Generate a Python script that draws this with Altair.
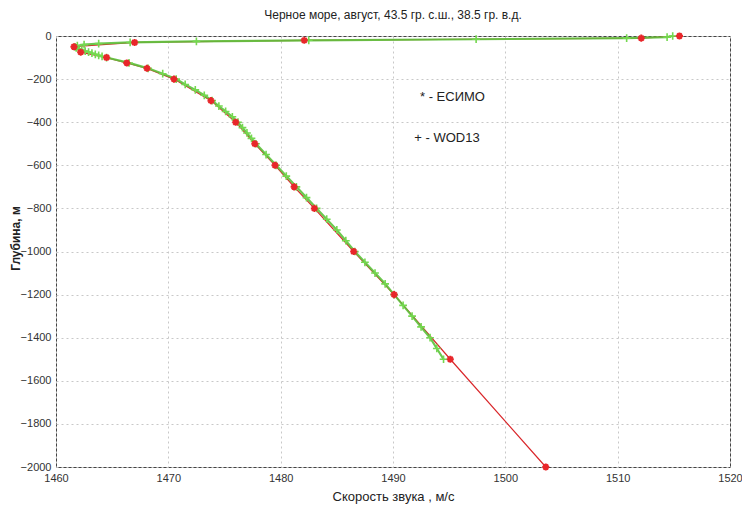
import altair as alt
import pandas as pd

# ESIMO (red, asterisk markers)
esimo_speed = [1515.5, 1512.1, 1482.1, 1467.0, 1461.6, 1462.2, 1464.5, 1466.3, 1468.1, 1470.5,
               1473.8, 1476.0, 1477.7, 1479.5, 1481.2, 1483.0, 1486.5, 1490.1, 1495.1, 1503.6]
esimo_depth = [0, -10, -20, -30, -50, -75, -100, -125, -150, -200,
               -300, -400, -500, -600, -700, -800, -1000, -1200, -1500, -2000]

# WOD13 (green, plus markers)
wod_speed = [1514.9, 1514.4, 1510.8, 1497.4, 1482.5, 1472.5, 1466.6, 1463.8, 1462.5, 1461.9,
             1461.7, 1461.8, 1462.0, 1462.3, 1462.6, 1462.9, 1463.2, 1463.5, 1463.8, 1464.1,
             1464.5, 1466.5, 1468.2, 1469.5, 1470.7, 1471.5, 1472.4, 1473.2, 1473.9, 1474.5,
             1475.1, 1475.7, 1476.2, 1476.6, 1477.0, 1477.4, 1477.8, 1478.7, 1479.6, 1480.5,
             1481.4, 1482.3, 1483.2, 1484.1, 1485.0, 1485.8, 1486.6, 1487.5, 1488.4, 1489.3,
             1490.1, 1490.9, 1491.7, 1492.5, 1493.3, 1493.9, 1494.5]
wod_depth = [0, -5, -10, -15, -20, -25, -30, -35, -40, -45,
             -50, -55, -60, -65, -70, -75, -80, -85, -90, -95,
             -100, -125, -150, -175, -200, -225, -250, -275, -300, -325,
             -350, -375, -400, -425, -450, -475, -500, -550, -600, -650,
             -700, -750, -800, -850, -900, -950, -1000, -1050, -1100, -1150,
             -1200, -1250, -1300, -1350, -1400, -1450, -1500]

x_ticks = [1460, 1470, 1480, 1490, 1500, 1510, 1520]
y_ticks = [0, -200, -400, -600, -800, -1000, -1200, -1400, -1600, -1800, -2000]

legend_x = [1492.4, 1491.9]
legend_y = [-283, -473]
legend_text = ["*  -  ЕСИМО", "+  -  WOD13"]

FONT = "Liberation Sans"

esimo = pd.DataFrame({"speed": esimo_speed, "depth": esimo_depth,
                      "idx": list(range(len(esimo_speed)))})
wod = pd.DataFrame({"speed": wod_speed, "depth": wod_depth,
                    "idx": list(range(len(wod_speed)))})
legend = pd.DataFrame({"x": legend_x, "y": legend_y, "t": legend_text})

xscale = alt.Scale(domain=[1460, 1520], nice=False, zero=False)
yscale = alt.Scale(domain=[-2000, 0], nice=False, zero=False)

xenc = alt.X("speed:Q", scale=xscale,
             axis=alt.Axis(values=x_ticks, title="Скорость звука , м/с", format="d",
                           labelPadding=5, titlePadding=7, titleFontWeight="normal",
                           titleFontSize=13, labelFontSize=11, labelFlush=False))
yenc = alt.Y("depth:Q", scale=yscale,
             axis=alt.Axis(values=y_ticks, title="Глубина, м", format="d",
                           labelPadding=5, titleFontWeight="bold", titleFontSize=12,
                           labelFontSize=11, titleX=-34, titleY=202, labelFlush=False))

asterisk = "M-1,0L1,0M0,-1L0,1M-0.7,-0.7L0.7,0.7M-0.7,0.7L0.7,-0.7"
plus = "M-1,0L1,0M0,-1L0,1"

red_line = alt.Chart(esimo).mark_line(color="#d9262a", strokeWidth=1.2).encode(
    x=xenc, y=yenc, order="idx:Q")
red_pts = alt.Chart(esimo).mark_point(shape=asterisk, filled=False, color="#e8262a",
                                      strokeWidth=2, size=50, opacity=1).encode(
    x="speed:Q", y="depth:Q")
green_line = alt.Chart(wod).mark_line(color="#5cc23c", strokeWidth=2.2, opacity=0.9).encode(
    x="speed:Q", y="depth:Q", order="idx:Q")
green_pts = alt.Chart(wod).mark_point(shape=plus, filled=False, color="#74d84f",
                                      strokeWidth=1.6, size=60, opacity=1).encode(
    x="speed:Q", y="depth:Q")
leg = alt.Chart(legend).mark_text(align="left", baseline="middle", fontSize=13,
                                  font=FONT, color="#222").encode(
    x="x:Q", y="y:Q", text="t:N")

chart = alt.layer(red_line, green_line, green_pts, red_pts, leg).properties(
    width=674, height=431,
    title=alt.TitleParams("Черное море, август, 43.5 гр. с.ш., 38.5 гр. в.д.",
                          fontSize=12, fontWeight="normal", font=FONT, color="#222",
                          offset=6, anchor="middle"),
    autosize=alt.AutoSizeParams(type="none"),
    padding={"left": 48, "top": 28, "right": 12, "bottom": 40},
).configure_view(stroke="#444", strokeWidth=1).configure_axis(
    grid=True, gridColor="#c8c8c8", gridDash=[2, 3], gridWidth=1,
    domain=False, ticks=False, labelFont=FONT, titleFont=FONT,
    labelColor="#333", titleColor="#222")

chart.save("out.html", embed_options={"renderer": "svg", "actions": False})
